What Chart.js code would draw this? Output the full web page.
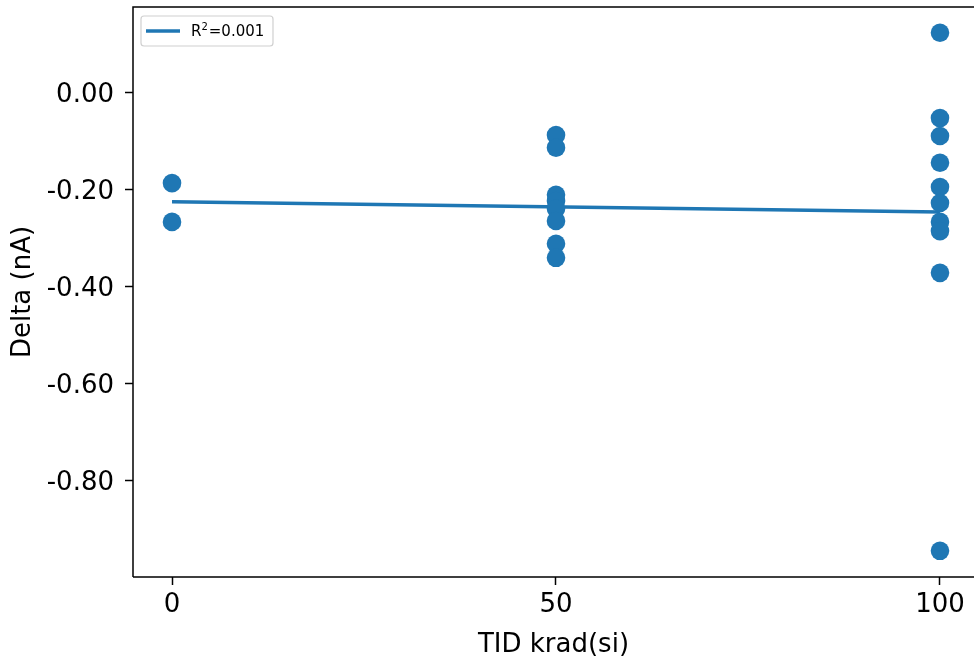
<!DOCTYPE html>
<html>
<head>
<meta charset="utf-8">
<script src="https://cdn.jsdelivr.net/npm/chart.js@4.4.1/dist/chart.umd.min.js"></script>
<style>
    html, body { margin: 0; padding: 0; background: #fff; }
    #wrap { width: 974px; height: 662px; }
</style>
</head>
<body>
<div id="wrap"><canvas id="chart" width="974" height="662"></canvas></div>
<script>
// Data
const doseX = [0, 0, 50, 50, 50, 50, 50, 50, 50, 50, 100, 100, 100, 100, 100, 100, 100, 100, 100, 100];
const deltaY = [-0.186, -0.266,
    -0.087, -0.113, -0.210, -0.223, -0.239, -0.264, -0.311, -0.340,
    0.124, -0.052, -0.089, -0.144, -0.194, -0.227, -0.266, -0.285, -0.371, -0.944];
const fitX = [0, 100];
const fitY = [-0.2247, -0.2454];
const xTicks = [0, 50, 100];
const yTicks = [0, -0.2, -0.4, -0.6, -0.8];

const BLUE = '#1f77b4';
const FONT = 'DejaVu Sans';

// Frame + matplotlib-style legend
const framePlugin = {
    id: 'frame',
    afterDraw(chart) {
        const { ctx, chartArea: a } = chart;
        ctx.save();
        ctx.strokeStyle = '#000';
        ctx.lineWidth = 1.5;
        ctx.beginPath();
        ctx.moveTo(a.left, a.bottom);
        ctx.lineTo(a.left, a.top);
        ctx.lineTo(a.right + 2, a.top);
        ctx.moveTo(a.left, a.bottom);
        ctx.lineTo(a.right + 2, a.bottom);
        ctx.stroke();

        // legend box
        const bx = a.left + 8, by = a.top + 9, bw = 132, bh = 30;
        ctx.beginPath();
        ctx.roundRect(bx, by, bw, bh, 3);
        ctx.fillStyle = 'rgba(255,255,255,0.8)';
        ctx.fill();
        ctx.strokeStyle = '#d0d0d0';
        ctx.lineWidth = 1.2;
        ctx.stroke();

        ctx.beginPath();
        ctx.moveTo(bx + 5, by + 15);
        ctx.lineTo(bx + 39, by + 15);
        ctx.strokeStyle = BLUE;
        ctx.lineWidth = 3.5;
        ctx.stroke();

        ctx.fillStyle = '#000';
        ctx.textBaseline = 'alphabetic';
        let tx = bx + 50;
        const base = by + 20;
        ctx.font = `15px "${FONT}"`;
        ctx.fillText('R', tx, base);
        tx += ctx.measureText('R').width;
        ctx.font = `10px "${FONT}"`;
        ctx.fillText('2', tx, base - 6);
        tx += ctx.measureText('2').width + 1;
        ctx.font = `15px "${FONT}"`;
        ctx.fillText('=0.001', tx, base);
        ctx.restore();
    }
};

const scatterPts = doseX.map((x, i) => ({ x: x, y: deltaY[i] }));
const fitPts = fitX.map((x, i) => ({ x: x, y: fitY[i] }));

new Chart(document.getElementById('chart'), {
    type: 'scatter',
    data: {
        datasets: [
            {
                label: 'data',
                data: scatterPts,
                backgroundColor: BLUE,
                borderWidth: 0,
                pointRadius: 9.3,
                pointHoverRadius: 9.3,
                order: 1
            },
            {
                label: 'R²=0.001',
                type: 'line',
                data: fitPts,
                borderColor: BLUE,
                borderWidth: 3.5,
                pointRadius: 0,
                fill: false,
                order: 2
            }
        ]
    },
    options: {
        responsive: false,
        animation: false,
        events: [],
        layout: { autoPadding: false, padding: { top: 7, right: 0, left: 0, bottom: 0 } },
        plugins: { legend: { display: false }, tooltip: { enabled: false } },
        scales: {
            x: {
                type: 'linear',
                min: -5.08,
                max: 104.43,
                afterBuildTicks: s => { s.ticks = xTicks.map(v => ({ value: v })); },
                afterFit: s => { s.height = 85; s.paddingLeft = 0; s.paddingRight = 0; },
                grid: { drawOnChartArea: false, drawTicks: true, tickLength: 8, tickWidth: 1.5, color: '#000' },
                border: { display: false },
                ticks: { color: '#000', font: { family: FONT, size: 26 }, padding: 5, maxRotation: 0 },
                title: { display: true, text: 'TID krad(si)', color: '#000', font: { family: FONT, size: 26 }, padding: { top: 0, bottom: 1 } }
            },
            y: {
                type: 'linear',
                min: -0.998,
                max: 0.177,
                afterBuildTicks: s => { s.ticks = yTicks.map(v => ({ value: v })); },
                afterFit: s => { s.width = 133; s.paddingTop = 0; s.paddingBottom = 0; },
                grid: { drawOnChartArea: false, drawTicks: true, tickLength: 8, tickWidth: 1.5, color: '#000' },
                border: { display: false },
                ticks: {
                    color: '#000', font: { family: FONT, size: 26 }, padding: 11, labelOffset: 2,
                    callback: v => (Math.abs(v) < 1e-9 ? 0 : v).toFixed(2)
                },
                title: { display: true, text: 'Delta (nA)', color: '#000', font: { family: FONT, size: 26 }, padding: { top: 8, bottom: 0 } }
            }
        }
    },
    plugins: [framePlugin]
});
</script>
</body>
</html>
